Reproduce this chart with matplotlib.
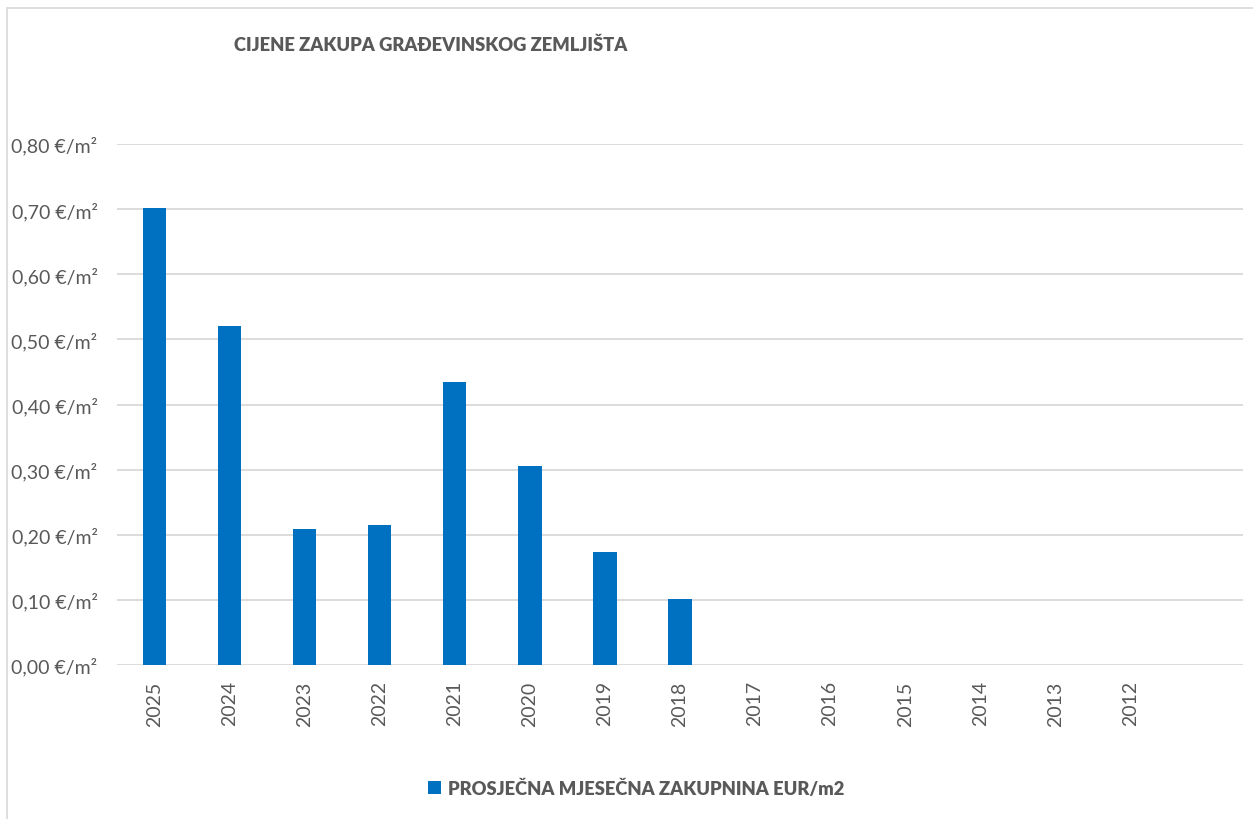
import matplotlib
matplotlib.use("Agg")
import matplotlib.pyplot as plt
from matplotlib.patches import Rectangle
import numpy as np

years = ["2025", "2024", "2023", "2022", "2021", "2020", "2019", "2018",
         "2017", "2016", "2015", "2014", "2013", "2012", ""]
values = [0.702, 0.521, 0.209, 0.215, 0.435, 0.305, 0.174, 0.102,
          np.nan, np.nan, np.nan, np.nan, np.nan, np.nan, np.nan]
yticks = [0.0, 0.1, 0.2, 0.3, 0.4, 0.5, 0.6, 0.7, 0.8]
ytick_labels = ["0,00 €/m²", "0,10 €/m²", "0,20 €/m²", "0,30 €/m²", "0,40 €/m²",
                "0,50 €/m²", "0,60 €/m²", "0,70 €/m²", "0,80 €/m²"]
title = "CIJENE ZAKUPA GRAĐEVINSKOG ZEMLJIŠTA"
series_name = "PROSJEČNA MJESEČNA ZAKUPNINA EUR/m2"

plt.rcParams['font.family'] = ['Lato', 'DejaVu Sans']
TXT = "#595959"
BAR = "#0070C0"
GRID = "#D9D9D9"

W, H = 1253, 820
fig = plt.figure(figsize=(W / 100, H / 100), dpi=100)
fig.patch.set_facecolor("white")

# chart border
fig.add_artist(Rectangle((7 / W, -0.1), 1.2, 1 - 9 / H + 0.1, transform=fig.transFigure,
                         fill=False, edgecolor=GRID, linewidth=1.2))

ax = fig.add_axes([117 / W, 1 - 666 / H, (1243 - 117) / W, (666 - 145) / H])
x = np.arange(len(years))
ax.bar(x, values, width=0.31, color=BAR, linewidth=0, zorder=3, label=series_name)
ax.set_xlim(-0.5, len(years) - 0.5)
ax.set_ylim(0, 0.8)
ax.set_yticks(yticks)
ax.set_yticklabels(ytick_labels)
ax.set_xticks(x)
ax.set_xticklabels(years, rotation=90)
ax.yaxis.grid(True, color=GRID, linewidth=1.3, zorder=0)
ax.set_axisbelow(True)
for s in ax.spines.values():
    s.set_visible(False)
ax.tick_params(axis="y", length=0, pad=14, labelsize=14, labelcolor=TXT)
ax.tick_params(axis="x", length=0, pad=11, labelsize=14, labelcolor=TXT)

fig.text(431 / W, 1 - 45 / H, title, ha="center", va="center",
         fontsize=13.2, fontweight="heavy", color=TXT)

leg = fig.legend(loc="center", bbox_to_anchor=(636 / W, 1 - 789 / H), frameon=False,
                 handlelength=0.75, handleheight=0.75, handletextpad=0.35,
                 prop={"weight": "heavy", "size": 13.2})
for t in leg.get_texts():
    t.set_color(TXT)

fig.savefig("out.png", dpi=100, facecolor="white")
